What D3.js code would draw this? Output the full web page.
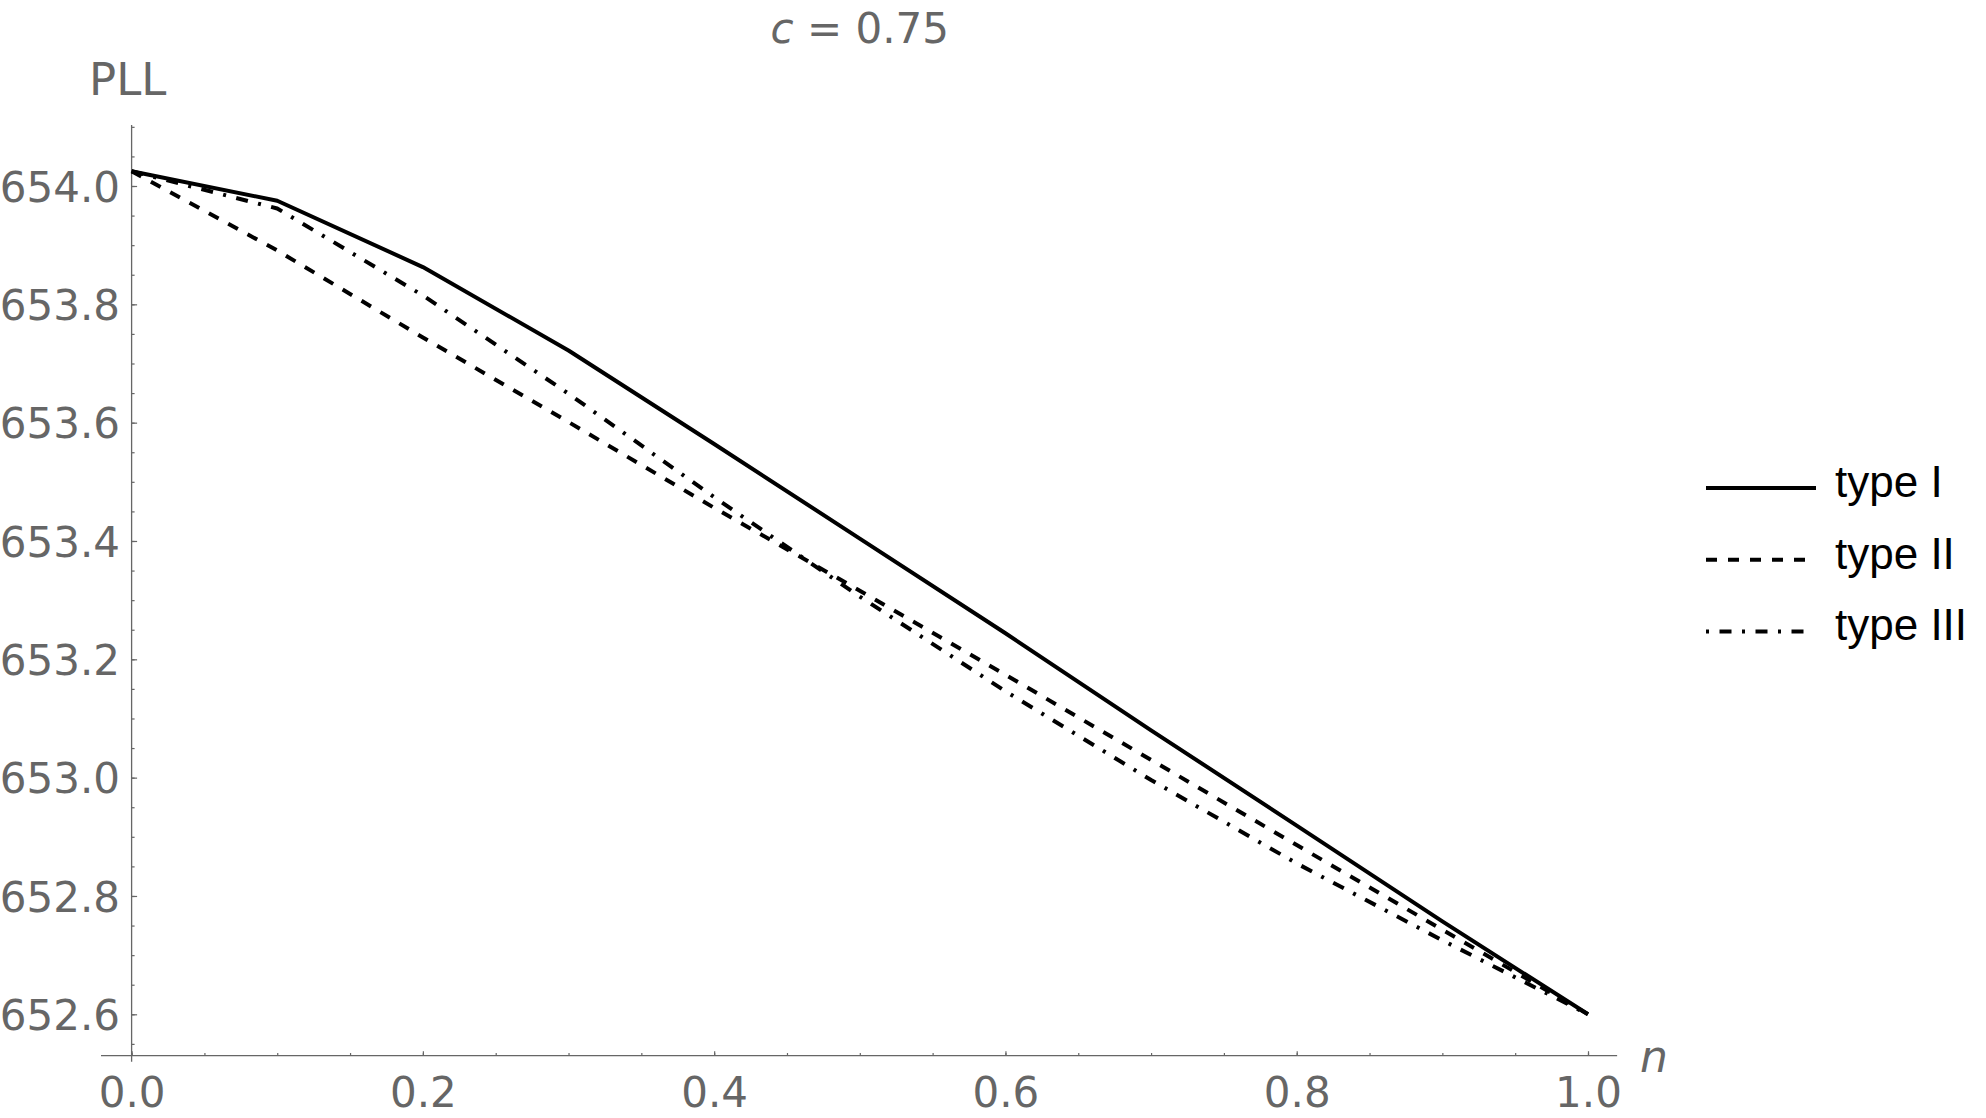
<!DOCTYPE html>
<html>
<head>
<meta charset="utf-8">
<script src="https://cdn.jsdelivr.net/npm/d3@7"></script>
<style>
  body { margin: 0; background: #fff; }
  text { font-family: "DejaVu Sans", sans-serif; }
</style>
</head>
<body>
<script>

var width = 1986,
height = 1118,
grey = "#666666";

// data
var nValues = [0, 0.1, 0.2, 0.3, 0.4, 0.5, 0.6, 0.7, 0.8, 0.9, 1.0];
var typeI   = [654.025, 653.975, 653.863, 653.722, 653.564, 653.404, 653.244, 653.080, 652.919, 652.757, 652.600];
var typeII  = [654.025, 653.891, 653.744, 653.601, 653.456, 653.316, 653.174, 653.030, 652.886, 652.743, 652.600];
var typeIII = [654.025, 653.962, 653.815, 653.649, 653.474, 653.306, 653.146, 652.996, 652.855, 652.725, 652.600];

var xTicks = [0, 0.2, 0.4, 0.6, 0.8, 1.0];
var yTicks = [652.6, 652.8, 653.0, 653.2, 653.4, 653.6, 653.8, 654.0];
var xMinor = d3.range(0, 1.0001, 0.05);
var yMinor = d3.range(652.55, 654.1001, 0.05);

var seriesNames = ["type I", "type II", "type III"];
var seriesDash = ["none", "11,11", "12,10.5,3,10.5"];
var series = [typeI, typeII, typeIII];

var x = d3.scaleLinear().domain([0, 1]).range([131.6, 1588]);
var y = d3.scaleLinear().domain([652.6, 654.0]).range([1014.3, 186]);

var svg = d3.select("body").append("svg")
 .attr("width", width)
 .attr("height", height);

svg.append("rect")
 .attr("width", width)
 .attr("height", height)
 .style("fill", "#fff");

var axisY = y(652.53); // where the n axis sits

// axis lines, a bit longer than the ticks like in the picture
svg.append("line")
 .attr("x1", x(-0.021)).attr("x2", x(1.02))
 .attr("y1", axisY).attr("y2", axisY)
 .style("stroke", grey).style("stroke-width", 1.3);

svg.append("line")
 .attr("x1", x(0)).attr("x2", x(0))
 .attr("y1", y(654.103)).attr("y2", axisY + 6)
 .style("stroke", grey).style("stroke-width", 1.3);

// x axis
var gx = svg.append("g").attr("transform", "translate(0," + axisY + ")");
gx.call(d3.axisBottom(x).tickValues(xMinor).tickSize(-2.7).tickFormat(""));
gx.append("g").call(d3.axisBottom(x).tickValues(xTicks).tickSize(-4.5).tickPadding(21)
 .tickFormat(d3.format(".1f")));

// y axis
var gy = svg.append("g").attr("transform", "translate(" + x(0) + ",0)");
gy.call(d3.axisLeft(y).tickValues(yMinor).tickSize(-3).tickFormat(""));
gy.append("g").call(d3.axisLeft(y).tickValues(yTicks).tickSize(-5.5).tickPadding(11.6)
 .tickFormat(d3.format(".1f")));

svg.selectAll(".domain").remove();
svg.selectAll(".tick line").style("stroke", grey).style("stroke-width", 1.2);
svg.selectAll(".tick text")
 .style("fill", grey)
 .style("font-size", "42px")
 .style("font-family", "DejaVu Sans");
gy.selectAll(".tick text").attr("dy", "0.36em");

// curves
var line = d3.line()
 .x(function (d, i) { return x(nValues[i]); })
 .y(function (d) { return y(d); });

svg.selectAll(".curve")
 .data(series)
.enter()
 .append("path")
 .attr("class", "curve")
 .attr("d", line)
 .style("fill", "none")
 .style("stroke", "#000")
 .style("stroke-width", 4)
 .style("stroke-linejoin", "round")
 .style("stroke-dasharray", function (d, i) { return seriesDash[i]; });

// labels
var title = svg.append("text")
 .attr("x", (x(0) + x(1)) / 2)
 .attr("y", 43)
 .attr("text-anchor", "middle")
 .style("font-size", "42px")
 .style("fill", grey);
title.append("tspan").style("font-style", "italic").text("c");
title.append("tspan").text(" = 0.75");

svg.append("text")
 .attr("x", 89)
 .attr("y", 95)
 .style("font-size", "45px")
 .style("fill", grey)
 .text("PLL");

svg.append("text")
 .attr("x", 1640)
 .attr("y", 1072)
 .style("font-size", "44px")
 .style("font-style", "italic")
 .style("fill", grey)
 .text("n");

// legend
var legend = svg.selectAll(".legend")
 .data(seriesNames)
.enter()
 .append("g")
 .attr("class", "legend")
 .attr("transform", function (d, i) { return "translate(1706," + (497 + i * 71.7) + ")"; });

legend.append("line")
 .attr("x1", 0).attr("x2", function (d, i) { return i == 0 ? 110 : 102; })
 .attr("y1", -9).attr("y2", -9)
 .style("stroke", "#000")
 .style("stroke-width", 4)
 .style("stroke-dasharray", function (d, i) { return i == 2 ? "3,10.5,12,10.5" : seriesDash[i]; });

legend.append("text")
 .attr("x", 129)
 .attr("y", 0)
 .style("font-family", "Liberation Sans")
 .style("font-size", "44px")
 .style("fill", "#000")
 .text(function (d) { return d; });

</script>
</body>
</html>
